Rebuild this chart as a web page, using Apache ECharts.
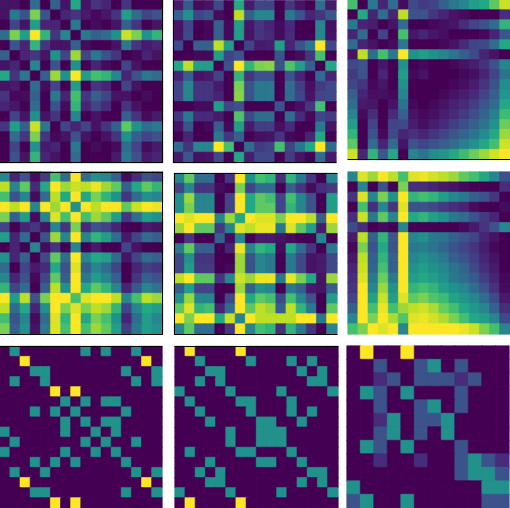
<!DOCTYPE html>
<html>
<head>
<meta charset="utf-8">
<style>
  html, body { margin: 0; padding: 0; background: #ffffff; }
  #main { width: 510px; height: 508px; }
</style>
<script src="https://cdn.jsdelivr.net/npm/echarts@6/dist/echarts.min.js"></script>
</head>
<body>
<div id="main"></div>
<script>
// values, 0 = dark end of viridis, 10 = yellow end
var matA1 = [
  [0.5,0.5,0,3.5,0,3,0.5,6,0.5,1.5,1,0,1.5,0,0,0],
  [0.5,4,2.5,8,2.5,0,1,1.5,0.7,0.2,0.6,1.5,5.5,3.5,2,2.5],
  [0,2,0.5,5.5,1,1,0,4,0,0.3,0,0.5,3,1.5,0,0.5],
  [3.5,8,5.5,10,6.5,1.5,4.5,0,4,3,3.5,5,9.2,8,5,6.5],
  [0,2.5,1,6.5,1.5,0.5,0.5,3,0.3,0,0,0.5,4,1.5,0.7,1],
  [3,0,1,1.5,0.5,5,2,8.5,2,4,2.5,1.5,0,0.2,1,0.5],
  [0.5,1,0,4.5,0,2.5,0,5,0,1,0.3,0,2,0.5,0,0],
  [6,1.5,4,0,3,8.5,5,10,5.5,7,6.5,4.5,1,2.5,4,3.5],
  [0.5,0.7,0,3.5,0.3,2,0,5.5,0,1.5,1,0,2,0.5,0,0],
  [1.5,0.2,0.3,3,0,4,1,7,1.5,3,2,0.5,0.5,0,0.3,0],
  [1,0.6,0,3.5,0,2.5,0.3,6.5,1,2,1.2,0,1.5,0.5,0,0],
  [0,2,0.5,5,0.5,1.5,0,4.5,0,0.5,0,0,3,1.5,0.3,0.7],
  [1.5,5.5,3,9.2,4,0,2,1,2,0.5,1.5,3,7.5,5,3.5,4],
  [0,3.5,1.5,8,1.5,0.2,0.5,2.5,0.5,0,0.5,1.5,5,3,2,2.5],
  [0,2,0,5,0.7,1,0,4,0,0.3,0,0.3,3.5,2,0.3,0.7],
  [0,2.5,0.5,6.5,1,0.5,0,3.5,0,0,0,0.7,4,2.5,0.7,1]
]
var matA2 = [
  [0.7,2.8,0.3,0.5,2.2,0,6,0.7,2,2,0,1.5,0.5,0,3.5,0.7],
  [3,5,2,2.5,0.3,0,9,3,4.5,4.5,0,4,2.5,1,1.5,2.7],
  [0.5,2,0,0.2,3,0.2,5.5,0.6,1.5,1,0.3,1.2,0,0,4.5,0.4],
  [0.5,2.2,0,0.2,3,0.2,5.5,0.5,1.5,1.2,0.3,1.2,0,0,4.5,0.5],
  [2.2,0,3,3,9,5.5,0,2,0.7,0.8,5.5,1,2.5,4,10,2.2],
  [0,0,0.2,0.2,5.5,2,2.5,0,0,0,2.5,0,0.3,1.5,7,0],
  [6,9,5.5,5.5,0,2.5,10,6.5,8,8.2,2.5,7.2,5.5,3,0,6],
  [1,3,0.5,0.7,2,0,6.5,1.5,2.5,2.5,0,2.5,1,0,3.5,1],
  [2,4.5,1.5,1.5,0.7,0,8,2.5,4,4,0,3.5,1.8,0.4,1.7,2.2],
  [2,4.5,1.5,1.5,1,0,8.2,2.5,4,4,0,3.5,2,0.5,2,2.2],
  [0,0,0.3,0.3,5.5,2,2.5,0,0,0,2.5,0,0.4,1.5,7,0],
  [1.5,4,1.2,1.2,0.7,0,7.2,2.2,3.5,3.5,0,3.5,1.2,0.2,2,1.7],
  [0.5,2.5,0,0.2,3,0.2,5.5,0.7,1.8,1.8,0.4,1.2,0,0,4,0.5],
  [0,1,0,0,4,1.5,3,0,0.4,0.5,1.5,0.2,0,1,6,0],
  [3.5,1.5,4.5,4.5,10,7,0,3.5,1.7,2,7,2,4,6,10,3.5],
  [0.7,2.7,0.4,0.5,2.2,0,6,0.8,2.2,2.2,0,1.7,0.5,0,3.5,0.7]
]
var matA3 = [
  [7,0,4,1,3.5,0.3,2.2,1.7,2,3,4,4.5,5.5,6,7.5,9.2],
  [0,6,1,3.5,1,9,2.5,2.5,1.5,1,0.5,0.3,0,0,0,1.3],
  [4,1,0.8,0,0.5,3.5,0,0,0.2,0.4,0.6,1.3,2,2.5,3.5,6.5],
  [1,3.5,0,2,0,7,0.6,1,0.6,0.4,0,0,0,0.2,1,2.7],
  [3.5,1,0.5,0,0.3,4,0,0,0,0.2,0.5,1.2,2,2.2,3.5,6],
  [0.5,9,3.5,7,4,10,5,5.5,5,4.5,3.8,3,2.2,1,0.5,0],
  [2.2,2.5,0,0.6,0,5,0,0.2,0,0,0.2,0.5,0.8,1.4,2.5,4.5],
  [1.7,2.5,0,1,0,5.5,0.2,0.5,0,0,0,0.2,0.4,1,2,3.8],
  [2,1.5,0.2,0.6,0,5,0,0,0,0,0.2,0.4,0.8,1.5,2.5,4.8],
  [3,1,0.4,0.4,0.2,4.5,0,0,0,0.2,0.5,0.8,1.2,2,3,5.2],
  [3.5,0.7,0.6,0,0.5,3.8,0.2,0,0.2,0.5,0.9,1.2,1.8,2.7,3.5,6],
  [4.5,0.3,1.3,0,1.2,3,0.5,0.2,0.4,0.8,1.2,1.7,2.4,3.2,4.3,6.8],
  [5.5,0,2,0,2,2.2,0.8,0.4,0.8,1.2,1.8,2.4,3,3.8,5,7.7],
  [6.5,0,2.5,0.2,2.2,1,1.4,1,1.5,2,2.7,3.2,3.8,4.8,6,8.5],
  [7.5,0,3.5,1,3.5,0.5,2.5,2,2.5,3,3.5,4.3,5,6,7,9.3],
  [9.2,1,6.5,2.7,6,0,4.5,3.8,4.8,5.2,6,6.8,7.7,8.5,9.3,10]
]
var matB1 = [
  [4.5,1,2.5,0.3,1.7,7,3.5,10,3.5,5,4.5,3,0.3,1.2,2.5,2],
  [9,4.5,7.5,1.2,6,10,8.5,9.2,9,9.7,8.5,7.5,3,6,7.5,6.5],
  [7,2.5,4.5,0.3,3.5,9,6,10,6,8,6.5,5,1.5,3.5,5,4.5],
  [10,9,10,4.5,10,8.5,10,5,10,9,10,10,7.5,9.2,10,9.7],
  [8,3,5.5,0.3,4.5,9.5,7,10,7,8.5,7.5,5.5,1.5,3.5,5.5,5],
  [2,0,1,1.5,0.5,4.5,1.5,8,1.2,2.5,2,1,0,0,0.7,0.5],
  [5.5,1,3.5,0,2.5,8.5,4.5,10,4.5,6.5,5.5,3.5,0.7,2,3.5,3],
  [0,1,0,4.5,0.3,1.5,0,4.5,0,0.7,0,0,2,0.5,0,0],
  [5,1,3,0,2.2,7.5,3.5,10,4.5,6,5.5,3.5,0.5,2,3.5,3],
  [3.5,0,2,0.7,1.2,6,2.5,9.5,3,4.5,3.5,2,0,1,1.8,1.5],
  [4.5,1,2.5,0.2,2,7.5,3,10,4,5.5,4.5,3,0,1.5,3,2.5],
  [6.5,2,3.5,0,3,9,5,10,6,7.5,6.5,4.5,1,2.7,4.5,3.8],
  [10,5.5,9,2.5,8,10,10,7,9.5,10,10,9,4.5,7,9,8.5],
  [9,3.5,6,1,5,10,8,9.5,8,9,8.5,6.5,2,4.5,6,5.5],
  [7,2.5,4.5,0.3,3.5,9.5,6.5,10,6,8,7,5,1,3.5,5.5,4.5],
  [8,3,5,0.5,4,9.5,7,10,7,8.5,7.5,5.5,1.8,4,5.5,5]
]
var matB2 = [
  [4.5,7.5,3.5,3.5,0,1.5,10,5,7,6.5,1.3,6.5,4,1.5,0,4.5],
  [2,4.5,1.5,1.5,0.3,0,8,2,3.5,3.5,0,3,1.5,0.3,1.3,1.7],
  [5,8.5,4.5,4.5,0,2,10,6,7.5,7,2,7,4.5,2.5,0,5.5],
  [5,8,4.5,4.5,0,2,10,6,7.5,7.5,2,6.5,4.5,2.5,0,5.5],
  [10,9.5,10,10,4.5,8.5,6,10,9.5,9.5,8,10,10,9,3,10],
  [8.5,10,7.5,7.5,1.7,4.5,9.5,9,9.7,9.7,4,9.5,7.5,5.5,0.7,8.5],
  [0,1.5,0,0,3,0.3,4.5,0,0.7,0.7,0.5,0.3,0,0,4.5,0],
  [4,7.5,3,3,0,1,9.7,4.5,6.5,6,0.3,6,3.5,1.5,0,4],
  [2.2,5,1.5,1.5,0,0,8.5,2.5,4.5,4,0,4,2.2,0.5,0.7,2.2],
  [2.2,5.5,1.7,1.7,0,0.2,8.5,2.5,4.5,4,0,4,2.2,0.5,0.7,2.2],
  [9,10,7.5,7.5,1.5,4.5,9.2,8.5,9.7,9.7,4,9.7,8,6,0.5,8.5],
  [3,5.5,2,2,0,0,8.5,3,5,4.5,0,4,3,0.7,0.5,3],
  [5,8.5,4.5,4.5,0,2.2,10,6,7.5,7,2.2,7,4.5,2.5,0,5.5],
  [7.5,9.5,6.5,7,1,3.5,10,7.5,9,8.5,3,9,6.5,4,0,7.5],
  [10,8,10,10,6,9.2,4.5,10,9,9,9,9,10,10,4,10],
  [4.5,7.5,3.5,3.5,0,1.5,10,4.5,7,6.5,1.3,6.5,4,1.5,0,4.5]
]
var matB3 = [
  [4.5,9.5,8.5,10,9,7,9.5,9.7,9.3,9,8.5,7.5,7,6,4.5,2.5],
  [0,4.5,0,2.5,0,8,1.3,1.3,1,0.7,0.5,0.2,0,0,0,1.3],
  [1.5,9.5,4.5,8,5,10,6.5,7,6.5,5.5,4.5,4,3,2.5,1.5,0],
  [0,7,1.3,4.5,1.5,9.5,2.5,2.5,2.2,1.7,1.3,1,0.3,0,0,0.3],
  [1.3,9.2,4,7.5,4.5,10,6,6.5,5.5,5,4,3.5,2.5,1.7,1,0],
  [2.3,1.3,0,0.3,0,4.5,0,0,0,0,0,0.2,0.7,1.5,2.5,4.5],
  [0.7,9,3,6.5,2.7,10,4.5,5,4,3.8,3,2.5,2,1,0.5,0],
  [0.2,8,2.5,6,2.5,10,4,4.2,3.8,3.2,2.5,2,1.5,0.8,0.2,0],
  [0.6,9,3,6.5,3,10,4.5,5,4.5,4,3,2.5,1.8,1,0.5,0],
  [1,9.2,3.2,7,3,10,5,5.5,5,4.5,3.8,3.2,2.2,1.3,0.7,0],
  [1.3,9.5,4,7.7,4,10,5.5,6,5.5,5,4,3.5,2.8,1.8,1,0.2],
  [1.5,10,4.5,8.5,5,10,6.5,7,6.5,5.5,5,4.5,3.5,2.5,1.4,0.3],
  [2,10,5.7,9.2,5.5,9.5,7.5,8,7.2,6.8,5.8,5.2,4.5,3.5,2.3,0.7],
  [3,10,7,9.7,7,8.5,9,9.3,8.7,7.7,7,6,5.2,4.5,3,1.3],
  [4.5,10,8,10,8.7,7.2,9.5,9.7,9.3,8.8,8,7,6,5.5,4.5,2.2],
  [7,8,10,9.5,10,4.5,10,10,10,10,10,9.7,9.2,8,7,4.5]
]
var matC1 = [
  [0,5,0,0,0,0,0,0,5,0,5,0,0,5,0,0],
  [0,0,10,0,0,0,0,0,0,0,0,0,0,0,10,0],
  [0,0,0,5,5,0,0,0,0,0,0,0,5,0,0,5],
  [0,5,0,0,5,0,0,0,0,0,0,0,0,5,0,5],
  [0,0,0,0,0,10,0,10,0,0,0,0,0,0,0,0],
  [0,0,0,0,0,0,5,0,5,0,5,5,0,0,0,0],
  [0,0,0,5,0,5,0,5,0,0,0,0,5,0,0,0],
  [0,0,0,0,0,0,5,0,5,0,5,5,0,0,0,0],
  [5,0,0,0,0,0,5,0,0,5,0,5,0,0,0,0],
  [0,5,0,0,0,0,0,0,5,0,5,0,0,5,0,0],
  [5,0,0,0,0,0,5,0,0,5,0,5,0,0,0,0],
  [0,0,0,5,0,5,0,5,0,0,0,0,5,0,0,0],
  [0,5,0,0,5,0,0,0,0,0,0,0,0,5,0,5],
  [0,0,10,0,0,0,0,0,0,0,0,0,0,0,10,0],
  [0,0,0,5,5,0,0,0,0,0,0,0,5,0,0,5],
  [0,0,0,0,0,10,0,10,0,0,0,0,0,0,0,0]
]
var matC2 = [
  [0,10,0,0,0,0,10,0,0,0,0,0,0,0,0,0],
  [0,0,5,0,0,0,0,5,0,0,0,5,0,5,0,0],
  [0,0,0,5,5,0,0,0,0,0,0,0,5,0,5,0],
  [0,0,5,0,5,0,0,0,0,0,0,0,0,5,5,0],
  [5,0,0,0,0,5,0,0,0,0,5,0,0,0,0,5],
  [0,5,0,0,0,0,5,5,0,0,0,5,0,0,0,0],
  [0,0,5,0,0,0,0,5,0,0,0,5,0,5,0,0],
  [0,0,0,5,0,0,0,0,5,5,0,0,5,0,0,0],
  [0,0,0,0,0,5,0,0,5,5,5,0,0,0,0,0],
  [0,0,0,0,0,5,0,0,5,5,5,0,0,0,0,0],
  [0,5,0,0,0,0,5,5,0,0,0,5,0,0,0,0],
  [0,0,0,5,0,0,0,0,5,5,0,0,5,0,0,0],
  [0,0,5,0,5,0,0,0,0,0,0,0,0,5,5,0],
  [0,0,0,5,5,0,0,0,0,0,0,0,5,0,5,0],
  [5,0,0,0,0,5,0,0,0,0,5,0,0,0,0,5],
  [0,10,0,0,0,0,10,0,0,0,0,0,0,0,0,0]
]
var matC3 = [
  [0,10,0,0,10,0,0,0,0,0,0,0],
  [0,0,2.5,0,0,2.5,5,0,2.5,0,0,0],
  [0,0,1.25,2.5,0,2.5,2.5,2.5,1.25,2.5,0,0],
  [0,5,2.5,0,5,0,0,0,2.5,0,0,0],
  [0,0,2.5,0,0,2.5,5,0,2.5,0,0,0],
  [0,0,1.25,5,0,2.5,2.5,5,0,0,0,0],
  [0,0,2.5,5,0,2.5,0,5,0,0,0,0],
  [0,5,2.5,0,5,0,0,0,2.5,0,0,0],
  [0,0,1.25,0,0,1.25,0,0,2.5,5,2.5,1.25],
  [0,0,0,0,0,0,0,0,2.5,5,5,2.5],
  [5,0,0,0,0,0,0,0,0,0,5,5],
  [2.5,5,0,0,5,0,0,0,0,0,2.5,2.5]
]
var viridis = ['#440154','#482475','#414487','#355f8d','#2a788e','#21918c','#22a884','#44bf70','#7ad151','#bddf26','#fde725']

// one panel per matrix: left, top, width, height, and which frame sides show
var panels = [
  { mat: matA1, rect: [0, 0, 162.5, 162.5], sides: 'rb' },
  { mat: matA2, rect: [173.5, 0.5, 162.5, 162], sides: 'lb' },
  { mat: matA3, rect: [348, -3, 162, 162.5], sides: 'b' },
  { mat: matB1, rect: [0, 172, 162.5, 162], sides: 'trb' },
  { mat: matB2, rect: [174.5, 173.5, 162.5, 160.5], sides: 'tlb' },
  { mat: matB3, rect: [348, 172, 162, 162], sides: '' },
  { mat: matC1, rect: [0, 346.5, 162, 162], sides: 't' },
  { mat: matC2, rect: [175, 346.5, 163, 162], sides: 't' },
  { mat: matC3, rect: [347, 346, 162, 162], sides: '' }
]

function range(n) {
  var out = []
  for (var i = 0; i < n; i++) out.push(i)
  return out
}

var grids = []
var xAxes = []
var yAxes = []
var series = []

panels.forEach(function(p, idx) {
  var n = p.mat.length
  var cats = range(n)
  var cells = []
  p.mat.forEach(function(row, r) {
    row.forEach(function(v, c) {
      // a hairline in the cell's own colour closes the seams between cells
      cells.push({
        value: [c, r, v],
        itemStyle: { borderWidth: 0.6, borderColor: echarts.color.lerp(v / 10, viridis) }
      })
    })
  })
  grids.push({ left: p.rect[0], top: p.rect[1], width: p.rect[2], height: p.rect[3], containLabel: false })

  function frame(side) {
    return {
      show: p.sides.indexOf(side) > -1,
      onZero: false,
      lineStyle: { color: '#000000', width: 1 }
    }
  }
  // axes come in pairs so that all four sides of a panel can carry a line
  xAxes.push({ gridIndex: idx, type: 'category', data: cats, position: 'bottom', z: 5, axisLine: frame('b'), axisTick: { show: false }, axisLabel: { show: false }, splitLine: { show: false } })
  xAxes.push({ gridIndex: idx, type: 'category', data: cats, position: 'top', z: 5, axisLine: frame('t'), axisTick: { show: false }, axisLabel: { show: false }, splitLine: { show: false } })
  yAxes.push({ gridIndex: idx, type: 'category', data: cats, inverse: true, position: 'left', z: 5, axisLine: frame('l'), axisTick: { show: false }, axisLabel: { show: false }, splitLine: { show: false } })
  yAxes.push({ gridIndex: idx, type: 'category', data: cats, inverse: true, position: 'right', z: 5, axisLine: frame('r'), axisTick: { show: false }, axisLabel: { show: false }, splitLine: { show: false } })

  series.push({
    type: 'heatmap',
    xAxisIndex: idx * 2,
    yAxisIndex: idx * 2,
    data: cells,
    silent: true,
    animation: false,
    progressive: 0
  })
})

var myChart = echarts.init(document.getElementById('main'), null, { renderer: 'canvas' })
var option = {
  backgroundColor: '#ffffff',
  animation: false,
  grid: grids,
  xAxis: xAxes,
  yAxis: yAxes,
  visualMap: {
    show: false,
    min: 0,
    max: 10,
    calculable: false,
    inRange: { color: viridis }
  },
  series: series
}
myChart.setOption(option)
</script>
</body>
</html>
